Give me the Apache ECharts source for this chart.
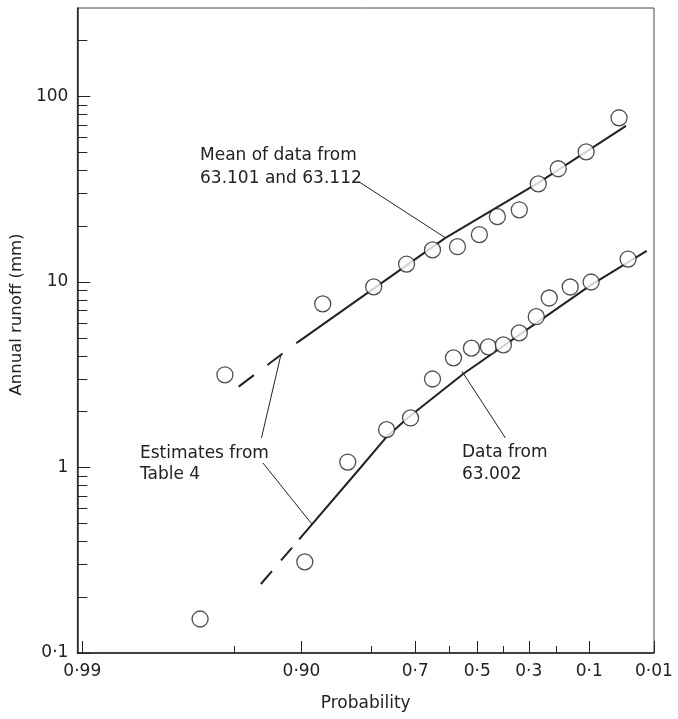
<!DOCTYPE html>
<html>
<head>
<meta charset="utf-8">
<script src="https://cdn.jsdelivr.net/npm/echarts@6/dist/echarts.min.js"></script>
<style>
  html, body { margin: 0; background: #fff; }
  #chart { width: 678px; height: 719px; }
</style>
</head>
<body>
<div id="chart"></div>
<script>
// exceedance probability / annual runoff (mm)
const meanProb = [0.9547, 0.8761, 0.7958, 0.7226, 0.6512, 0.5709, 0.4921, 0.4233, 0.3370, 0.2638, 0.1919, 0.1079, 0.0421]
const meanRunoff = [3.16, 7.62, 9.41, 12.5, 14.9, 15.5, 18.0, 22.5, 24.5, 33.8, 40.8, 50.3, 76.8]
const site002Prob = [0.9651, 0.8966, 0.8412, 0.7693, 0.7124, 0.6512, 0.5845, 0.5215, 0.4581, 0.3998, 0.3370, 0.2713, 0.2234, 0.1531, 0.0955, 0.0305]
const site002Runoff = [0.1525, 0.31, 1.07, 1.6, 1.85, 3.0, 3.9, 4.4, 4.47, 4.58, 5.32, 6.5, 8.2, 9.4, 10.0, 13.3]

// fitted curves and estimates from Table 4
const meanFitProb = [0.904, 0.6108, 0.2638, 0.0329]
const meanFitRunoff = [4.73, 17.3, 34.2, 69.5]
const meanEstProb = [0.9477, 0.904]
const meanEstRunoff = [2.73, 4.73]
const site002FitProb = [0.9024, 0.8199, 0.7693, 0.7201, 0.5501, 0.3370, 0.0955, 0.0141]
const site002FitRunoff = [0.41, 1.0, 1.462, 1.85, 3.2, 5.19, 9.65, 14.7]
const site002EstProb = [0.9341, 0.9024]
const site002EstRunoff = [0.2355, 0.41]

// leader lines for the notes
const leaderProb = [[0.8210, 0.6108], [0.9337, 0.9190], [0.9327, 0.8890], [0.3920, 0.5553]]
const leaderRunoff = [[34.4, 17.3], [1.444, 4.05], [1.058, 0.496], [1.444, 3.30]]

// axis ticks
const probTicks = [0.99, 0.90, 0.7, 0.5, 0.3, 0.1, 0.01]
const probLabels = ['0·99', '0·90', '0·7', '0·5', '0·3', '0·1', '0·01']
const probMinor = [0.95, 0.8, 0.6, 0.4, 0.2]
const runoffTicks = [0.1, 1, 10, 100]
const runoffLabels = ['0·1', '1', '10', '100']
const runoffMinor = [0.2, 0.3, 0.4, 0.5, 0.6, 0.7, 0.8, 0.9, 2, 3, 4, 5, 6, 7, 8, 9, 20, 30, 40, 50, 60, 70, 80, 90, 200]

// probability paper: x = log10(-ln P)
function probX(p) {
  return Math.log10(-Math.log(p))
}
function pairs(ps, vs) {
  return ps.map((p, i) => [probX(p), Math.log10(vs[i])])
}
function tickLabel(ticks, labels, fn) {
  return (v) => {
    const i = ticks.findIndex((t) => Math.abs(fn(t) - v) < 1e-6)
    return i >= 0 ? labels[i] : ''
  }
}

const FONT = 'DejaVu Sans'
const INK = '#222'
const xMin = -2.0208
const xMax = 0.6635
const yMin = -1
const yMax = Math.log10(300)

const textStyle = { fontFamily: FONT, fontSize: 17, color: INK }

function fitLine(data, type, width) {
  return {
    type: 'line',
    data,
    symbol: 'none',
    silent: true,
    z: 2,
    lineStyle: { color: INK, width, type },
  }
}
function points(data) {
  return {
    type: 'scatter',
    data,
    symbol: 'circle',
    symbolSize: 16,
    z: 5,
    itemStyle: { color: '#fff', borderColor: INK, borderWidth: 1.3 },
  }
}

const series = [
  fitLine(pairs(meanFitProb, meanFitRunoff), 'solid', 2),
  fitLine(pairs(meanEstProb, meanEstRunoff), [19, 17], 2),
  fitLine(pairs(site002FitProb, site002FitRunoff), 'solid', 2),
  fitLine(pairs(site002EstProb, site002EstRunoff), [17, 14], 2),
]
leaderProb.forEach((ps, i) => {
  series.push(fitLine(pairs(ps, leaderRunoff[i]), 'solid', 1))
})
series.push(points(pairs(meanProb, meanRunoff)))
series.push(points(pairs(site002Prob, site002Runoff)))

const chart = echarts.init(document.getElementById('chart'))
chart.setOption({
  animation: false,
  backgroundColor: '#fff',
  grid: {
    left: 76,
    right: 24,
    top: 8,
    bottom: 66,
    show: true,
    borderColor: '#444',
    borderWidth: 1,
  },
  xAxis: [
    {
      type: 'value',
      min: xMin,
      max: xMax,
      position: 'bottom',
      name: 'Probability',
      nameLocation: 'middle',
      nameGap: 42,
      nameTextStyle: textStyle,
      splitLine: { show: false },
      axisLine: { show: true, onZero: false, lineStyle: { color: INK, width: 1.5 } },
      axisTick: {
        inside: true,
        length: 12,
        lineStyle: { color: INK },
        customValues: probTicks.map(probX),
      },
      axisLabel: {
        ...textStyle,
        margin: 10,
        customValues: probTicks.map(probX),
        formatter: tickLabel(probTicks, probLabels, probX),
      },
    },
    {
      // minor ticks
      type: 'value',
      min: xMin,
      max: xMax,
      position: 'bottom',
      splitLine: { show: false },
      axisLine: { show: false, onZero: false },
      axisLabel: { show: false },
      axisTick: {
        inside: true,
        length: 7,
        lineStyle: { color: INK },
        customValues: probMinor.map(probX),
      },
    },
  ],
  yAxis: [
    {
      type: 'value',
      min: yMin,
      max: yMax,
      position: 'left',
      name: 'Annual runoff (mm)',
      nameLocation: 'middle',
      nameGap: 49,
      nameTextStyle: { ...textStyle, fontSize: 16.5, padding: [0, 0, 0, 32] },
      splitLine: { show: false },
      axisLine: { show: true, onZero: false, lineStyle: { color: INK, width: 1.5 } },
      axisTick: {
        inside: true,
        length: 13,
        lineStyle: { color: INK },
        customValues: runoffTicks.map(Math.log10),
      },
      axisLabel: {
        ...textStyle,
        margin: 9,
        customValues: runoffTicks.map(Math.log10),
        formatter: tickLabel(runoffTicks, runoffLabels, Math.log10),
      },
    },
    {
      // minor ticks
      type: 'value',
      min: yMin,
      max: yMax,
      position: 'left',
      splitLine: { show: false },
      axisLine: { show: false, onZero: false },
      axisLabel: { show: false },
      axisTick: {
        inside: true,
        length: 10,
        lineStyle: { color: INK },
        customValues: runoffMinor.map(Math.log10),
      },
    },
  ],
  graphic: [
    {
      type: 'text',
      left: 200,
      top: 144,
      style: { text: 'Mean of data from\n63.101 and 63.112', font: '17px "DejaVu Sans"', fill: INK, lineHeight: 23 },
    },
    {
      type: 'text',
      left: 140,
      top: 443,
      style: { text: 'Estimates from\nTable 4', font: '17px "DejaVu Sans"', fill: INK, lineHeight: 21 },
    },
    {
      type: 'text',
      left: 462,
      top: 442,
      style: { text: 'Data from\n63.002', font: '17px "DejaVu Sans"', fill: INK, lineHeight: 22 },
    },
  ],
  series,
})
</script>
</body>
</html>
